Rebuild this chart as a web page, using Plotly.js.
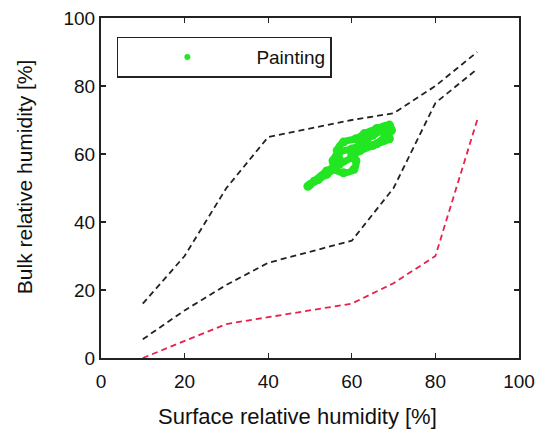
<!DOCTYPE html>
<html><head><meta charset="utf-8">
<script src="https://cdn.plot.ly/plotly-3.0.1.min.js"></script>
<style>body{margin:0;background:#fff}#plot{width:540px;height:429px}</style>
</head><body><div id="plot"></div>
<script>
const surfaceRH = [10, 20, 30, 40, 60, 70, 80, 90];
const upperBound = [16, 30, 50, 65, 70, 72, 80, 90];
const lowerBound = [5.5, 14, 21.5, 28, 34.5, 50, 75, 85];
const redCurve = [0, 5, 10, 12, 16, 22, 30, 70];
const paintingX = [50, 52, 54, 56, 57, 56.5, 58, 61, 63, 66, 69, 69.5, 68, 65, 62, 60, 61, 60.5, 58, 56, 55.5, 57, 60, 62.5, 65, 68, 69, 66, 63, 60, 57, 54, 51, 49.5];
const paintingY = [51, 52.5, 54, 56, 58.5, 61, 63.5, 64.5, 66, 67.5, 68.5, 67, 65, 62.5, 61, 60, 58, 55.5, 54.5, 55.5, 58, 60.5, 61.5, 63, 65.5, 66.5, 64.5, 63, 62, 59, 57, 55, 52, 50.5];
const xTicks = [0, 20, 40, 60, 80, 100];
const yTicks = [0, 20, 40, 60, 80, 100];
const xTitle = 'Surface relative humidity [%]';
const yTitle = 'Bulk relative humidity [%]';

const dash = {dash: '6px,4px', width: 1.8};
const traces = [
  {x: surfaceRH, y: upperBound, mode: 'lines', line: Object.assign({color: '#222'}, dash), showlegend: false},
  {x: surfaceRH, y: lowerBound, mode: 'lines', line: Object.assign({color: '#222'}, dash), showlegend: false},
  {x: surfaceRH, y: redCurve, mode: 'lines', line: Object.assign({color: '#e8204a'}, dash), showlegend: false},
  {x: paintingX, y: paintingY, mode: 'lines+markers', line: {color: '#22e622', width: 7, shape: 'spline'}, marker: {color: '#22e622', size: 9}, showlegend: false},
  {x: [null], y: [null], mode: 'markers', marker: {color: '#22e622', size: 6}, name: 'Painting', showlegend: true}
];
const font = {family: 'Liberation Sans, Arial', size: 19, color: '#111'};
const axisCommon = {
  range: [0, 100], showgrid: false, zeroline: false, ticks: 'inside', ticklen: 5, tickwidth: 1.2,
  tickcolor: '#222', showline: true, linecolor: '#222', linewidth: 2, mirror: 'ticks',
  tickfont: font
};
const layout = {
  width: 540, height: 429,
  margin: {l: 101, r: 21, t: 18, b: 71},
  paper_bgcolor: '#fff', plot_bgcolor: '#fff',
  xaxis: Object.assign({}, axisCommon, {tickvals: xTicks, ticklabelstandoff: 5}),
  yaxis: Object.assign({}, axisCommon, {tickvals: yTicks}),
  annotations: [
    {text: xTitle, xref: 'paper', yref: 'paper', x: 0.471, y: -0.171, xanchor: 'center', yanchor: 'middle', showarrow: false, font: Object.assign({}, font, {size: 22})},
    {text: yTitle, xref: 'paper', yref: 'paper', x: -0.184, y: 0.532, xanchor: 'center', yanchor: 'middle', textangle: -90, showarrow: false, font: Object.assign({}, font, {size: 21})}
  ],
  legend: {x: 0.038, y: 0.945, xanchor: 'left', yanchor: 'top', bordercolor: '#222', borderwidth: 1.5, bgcolor: '#fff',
    itemwidth: 128, font: font}
};
Plotly.newPlot('plot', traces, layout, {displayModeBar: false, staticPlot: true});
</script></body></html>
